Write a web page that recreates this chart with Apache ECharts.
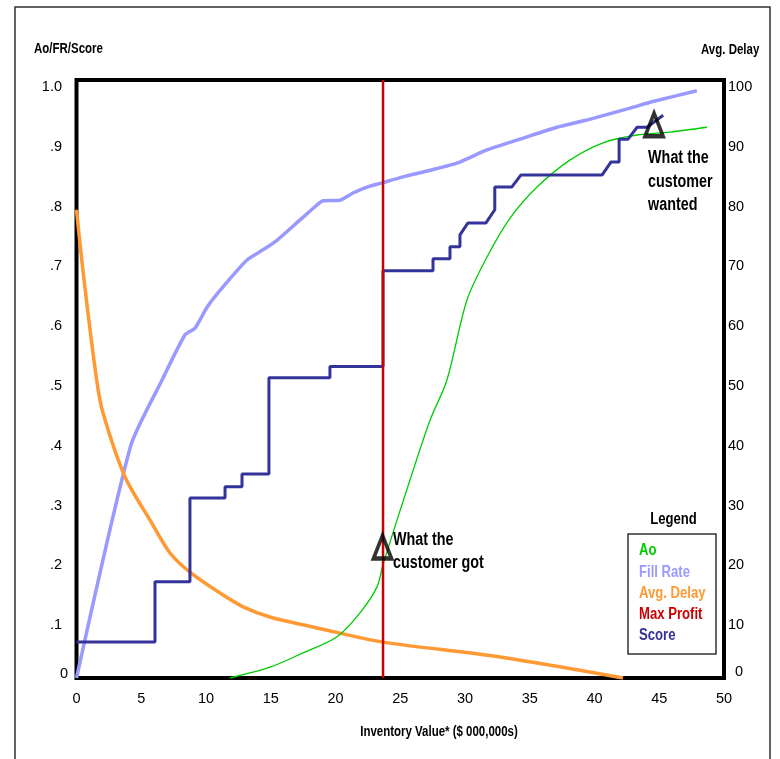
<!DOCTYPE html>
<html>
<head>
<meta charset="utf-8">
<script src="https://cdn.jsdelivr.net/npm/echarts@6/dist/echarts.min.js"></script>
<style>
  html, body { margin: 0; padding: 0; background: #fff; }
  #chart { width: 780px; height: 759px; }
</style>
</head>
<body>
<div id="chart"></div>
<script>
// x = inventory value ($ 000,000s); left axis = Ao / fill rate / score; right axis = avg. delay
const fillRate = [
  [0, 0], [4.21, 0.39], [6.6, 0.498], [8.38, 0.574], [9.15, 0.585], [10.08, 0.62],
  [11.31, 0.654], [13.17, 0.699], [14.4, 0.716], [15.48, 0.732], [17.26, 0.766],
  [18.57, 0.791], [19.03, 0.798], [20.35, 0.799], [21.35, 0.811], [22.43, 0.821],
  [23.59, 0.828], [25.21, 0.838], [27.3, 0.849], [29.38, 0.861], [31.7, 0.883],
  [34.25, 0.901], [37.1, 0.921], [39.4, 0.933], [42.75, 0.953], [44.5, 0.964],
  [47.9, 0.982]
];

const avgDelay = [
  [0, 78.3], [0.58, 66.6], [1.56, 49.8], [2.05, 44.3], [3.75, 33.6], [5.68, 26.4],
  [7.22, 20.9], [8.76, 17.7], [11.08, 14.2], [12.87, 11.9], [14.94, 10.2],
  [17.49, 8.9], [20.35, 7.5], [23.67, 6.0], [32.7, 3.5], [42.2, 0]
];

const ao = [
  [11.85, 0], [14.94, 0.018], [17.49, 0.042], [20.12, 0.069], [21.89, 0.109],
  [23.2, 0.152], [23.67, 0.19], [25.75, 0.331], [27.3, 0.431], [28.6, 0.498],
  [30.15, 0.632], [31.7, 0.704], [33.48, 0.769], [35.56, 0.821], [38.1, 0.866],
  [40.66, 0.895], [43.28, 0.908], [45.83, 0.913], [48.69, 0.921]
];

const score = [
  [0, 0.06], [6.06, 0.06], [6.06, 0.161], [8.76, 0.161], [8.76, 0.301],
  [11.47, 0.301], [11.47, 0.32], [12.78, 0.32], [12.78, 0.341], [14.86, 0.341],
  [14.86, 0.502], [19.57, 0.502], [19.57, 0.521], [23.67, 0.521], [23.67, 0.681],
  [27.53, 0.681], [27.53, 0.701], [28.84, 0.701], [28.84, 0.721], [29.61, 0.721],
  [29.61, 0.741], [30.23, 0.761], [31.62, 0.761], [32.3, 0.783], [32.3, 0.821],
  [33.61, 0.821], [34.31, 0.841], [40.58, 0.841], [41.28, 0.863], [41.9, 0.863],
  [41.9, 0.901], [42.59, 0.901], [43.29, 0.921], [44.06, 0.921], [45.3, 0.941]
];

const maxProfit = 23.67;
const customerGot = [23.63, 0.219];
const customerWanted = [44.6, 0.925];

const xTickLabels = ['0', '5', '10', '15', '20', '25', '30', '35', '40', '45', '50'];
const leftTickLabels = ['0', '.1', '.2', '.3', '.4', '.5', '.6', '.7', '.8', '.9', '1.0'];
const rightTickLabels = ['0', '10', '20', '30', '40', '50', '60', '70', '80', '90', '100'];
const legendNames = ['Ao', 'Fill Rate', 'Avg. Delay', 'Max Profit', 'Score'];

const FONT = '"Liberation Sans", Arial, Helvetica, sans-serif';
const NARROW = 0.82; // horizontal squeeze for the condensed-looking captions
const C = {
  'Ao': '#00cc00',
  'Fill Rate': '#9999ff',
  'Avg. Delay': '#ff9933',
  'Max Profit': '#cc0000',
  'Score': '#333399'
};

const chart = echarts.init(document.getElementById('chart'), null, { renderer: 'canvas' });

const TICK_FS = 14.5;

chart.setOption({
  animation: false,
  backgroundColor: '#fff',
  textStyle: { fontFamily: FONT },
  grid: {
    left: 76.5, right: 56, top: 80, bottom: 81,
    show: true, borderColor: '#000', borderWidth: 4, backgroundColor: 'transparent'
  },
  xAxis: {
    type: 'value', min: 0, max: 50, interval: 5,
    axisLine: { show: false }, axisTick: { show: false }, splitLine: { show: false },
    axisLabel: {
      margin: 13, fontSize: TICK_FS, color: '#000', fontFamily: FONT,
      formatter: v => xTickLabels[Math.round(v / 5)]
    }
  },
  yAxis: [
    {
      type: 'value', min: 0, max: 1, interval: 0.1,
      axisLine: { show: false }, axisTick: { show: false }, splitLine: { show: false },
      axisLabel: {
        margin: 8.5, fontSize: TICK_FS, color: '#000', fontFamily: FONT,
        formatter: v => {
          const i = Math.round(v * 10);
          return i === 0 ? '{z|' + leftTickLabels[i] + '}' : '{a|' + leftTickLabels[i] + '}';
        },
        rich: {
          a: { fontSize: TICK_FS, fontFamily: FONT, color: '#000', padding: [14, 6, 0, 0] },
          z: { fontSize: TICK_FS, fontFamily: FONT, color: '#000', padding: [0, 0, 8, 0] }
        }
      }
    },
    {
      type: 'value', min: 0, max: 100, interval: 10,
      axisLine: { show: false }, axisTick: { show: false }, splitLine: { show: false },
      axisLabel: {
        margin: 4, fontSize: TICK_FS, color: '#000', fontFamily: FONT,
        formatter: v => {
          const i = Math.round(v / 10);
          return i === 0 ? '{z|' + rightTickLabels[i] + '}' : '{a|' + rightTickLabels[i] + '}';
        },
        rich: {
          a: { fontSize: TICK_FS, fontFamily: FONT, color: '#000', padding: [14, 0, 0, 0] },
          z: { fontSize: TICK_FS, fontFamily: FONT, color: '#000', padding: [0, 0, 13, 7] }
        }
      }
    }
  ],
  series: [
    {
      name: 'Fill Rate', type: 'line', data: fillRate, yAxisIndex: 0,
      showSymbol: false, smooth: 0.2,
      lineStyle: { color: C['Fill Rate'], width: 3.5 }, z: 2
    },
    {
      name: 'Avg. Delay', type: 'line', data: avgDelay, yAxisIndex: 1,
      showSymbol: false, smooth: 0.3,
      lineStyle: { color: C['Avg. Delay'], width: 3.5 }, z: 3
    },
    {
      name: 'Ao', type: 'line', data: ao, yAxisIndex: 0,
      showSymbol: false, smooth: 0.3,
      lineStyle: { color: C['Ao'], width: 1.3 }, z: 4
    },
    {
      name: 'Score', type: 'line', data: score, yAxisIndex: 0,
      showSymbol: false,
      lineStyle: { color: C['Score'], width: 3 }, z: 5
    },
    {
      name: 'Max Profit', type: 'line', yAxisIndex: 0,
      data: [[maxProfit, 0], [maxProfit, 1]],
      showSymbol: false,
      lineStyle: { color: C['Max Profit'], width: 2.5 }, z: 6
    },
    {
      name: 'Customer', type: 'scatter', yAxisIndex: 0,
      data: [customerGot, customerWanted],
      symbol: 'triangle', symbolSize: [18, 23],
      itemStyle: { color: 'rgba(0,0,0,0)', borderColor: '#000', borderWidth: 4 },
      z: 8
    }
  ]
});

// Captions, annotations and legend panel (condensed bold type)
function caption(text, x, y, opts) {
  return Object.assign({
    type: 'text', x: x, y: y, scaleX: NARROW, z: 20,
    style: Object.assign({
      text: text, fontFamily: FONT, fontWeight: 'bold', fill: '#000',
      align: 'left', verticalAlign: 'middle'
    }, opts || {})
  });
}

const got = chart.convertToPixel({ xAxisIndex: 0, yAxisIndex: 0 }, customerGot);
const wanted = chart.convertToPixel({ xAxisIndex: 0, yAxisIndex: 0 }, customerWanted);

const graphics = [
  {
    type: 'rect', silent: true, z: -10,
    shape: { x: 15, y: 7, width: 755, height: 770 },
    style: { fill: 'none', stroke: '#333', lineWidth: 1.5 }
  },
  caption('Ao/FR/Score', 34, 49, { fontSize: 14 }),
  caption('Avg. Delay', 701, 50, { fontSize: 14 }),
  caption('Inventory Value* ($ 000,000s)', 439, 732, { fontSize: 14, align: 'center' }),
  caption('What the\ncustomer got', got[0] + 10.5, got[1] + 5, { fontSize: 17.5, lineHeight: 23 }),
  caption('What the\ncustomer\nwanted', wanted[0] - 6, wanted[1] + 57, { fontSize: 17.5, lineHeight: 23.5 }),
  caption('Legend', 673.5, 520, { fontSize: 16, align: 'center' }),
  {
    type: 'rect', z: 19,
    shape: { x: 628, y: 534, width: 88, height: 120 },
    style: { fill: '#fff', stroke: '#333', lineWidth: 1.5 }
  }
];
legendNames.forEach((name, i) => {
  graphics.push(caption(name, 639, 551 + i * 21.25, { fontSize: 16, fill: C[name] }));
});

chart.setOption({ graphic: graphics });
</script>
</body>
</html>
